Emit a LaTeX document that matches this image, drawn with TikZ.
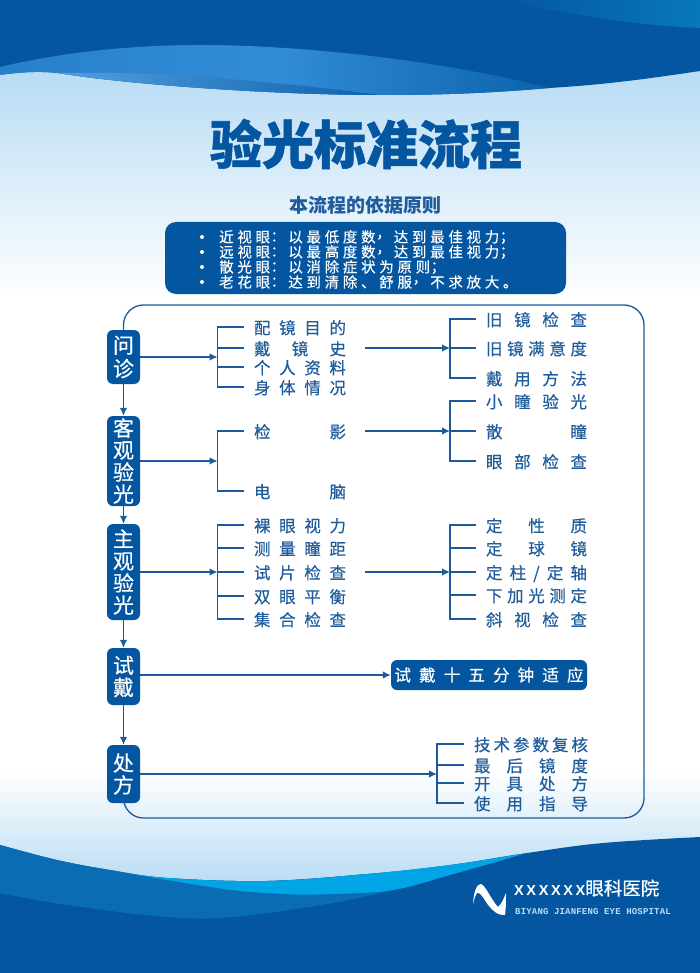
\documentclass[tikz,border=0pt]{standalone}
\usepackage{fontspec}
\usetikzlibrary{arrows.meta}
\setmainfont{Noto Sans CJK SC}
\newfontfamily\rowfont{Noto Sans CJK SC}[FakeBold=0.4]
\newfontfamily\stepfont{Noto Sans CJK SC}[FakeBold=0.5]
\newfontfamily\titlefont{Noto Sans CJK SC}[BoldFeatures={FakeBold=1.1}]
\newfontfamily\basisfont{Noto Sans CJK SC}
\newfontfamily\widefont{Noto Sans CJK SC}[LetterSpace=25.5,FakeBold=0.3]
\newfontfamily\widepunct{Noto Sans CJK TC}[FakeBold=0.3]
\newfontfamily\logofont{Liberation Sans}[LetterSpace=18]
\newfontfamily\hospfont{Liberation Mono}[LetterSpace=2]
\newcommand{\spreadtext}[2]{\makebox[#1pt][s]{#2}}
\newcommand{\pc}[1]{\makebox[18.2pt][l]{\hspace{-3pt}\widepunct #1}}
\definecolor{deepblue}{RGB}{4,86,160}
\definecolor{linkblue}{RGB}{28,90,155}
\definecolor{midblue}{RGB}{10,108,178}
\definecolor{cyanblue}{RGB}{0,165,230}
\definecolor{paleblue}{RGB}{184,220,244}
\definecolor{rowblue}{RGB}{30,92,155}
\definecolor{swooshleft}{RGB}{40,128,204}
\definecolor{swooshmid}{RGB}{50,140,216}
\definecolor{swooshright}{RGB}{12,98,172}
\definecolor{innerblue}{RGB}{84,158,222}
\begin{document}
\begin{tikzpicture}[x=1pt,y=-1pt,
  flow/.style={draw=linkblue,line width=1.3pt},
  flowarrow/.style={flow,-{Latex[length=8pt,width=7.5pt]}},
  stepbox/.style={fill=deepblue,text=white,rounded corners=6pt,inner sep=0pt,minimum width=33pt,align=center,font=\stepfont\fontsize{21}{22}\selectfont},
  rowtext/.style={text=rowblue,inner sep=0pt,outer xsep=10pt,text height=15.5pt,text depth=1.4pt,font=\rowfont\fontsize{16.5}{17}\selectfont}]
\useasboundingbox (0,0) rectangle (700,973);
% background
\fill[white] (0,0) rectangle (700,973);
\shade[top color=paleblue,bottom color=white] (0,70) rectangle (700,300);
\shade[top color=white,bottom color=paleblue] (0,770) rectangle (700,885);
% top waves
\fill[deepblue] (0,0) -- (700,0) -- (700,71) .. controls (640,80) and (600,85) .. (549,88) .. controls (480,94) and (430,95) .. (380,95) .. controls (280,95) and (130,85) .. (58,73) .. controls (40,71) and (20,72) .. (0,75) -- cycle;
\begin{scope}
\clip (0,67) .. controls (50,55) and (120,45) .. (200,45) .. controls (300,45) and (440,60) .. (549,88) .. controls (480,94) and (430,95) .. (380,95) .. controls (280,95) and (130,85) .. (58,73) .. controls (40,71) and (20,72) .. (0,75) -- cycle;
\shade[left color=swooshleft,right color=swooshright,middle color=swooshmid] (0,40) rectangle (549,100);
\end{scope}
\shade[left color=innerblue,right color=swooshright] (58,73) .. controls (120,72) and (200,75) .. (240,80) .. controls (300,85) and (340,90) .. (380,95) .. controls (280,95) and (130,85) .. (58,73) -- cycle;
\shade[left color=deepblue,right color=midblue!80!cyanblue] (500,0) .. controls (540,8) and (620,25) .. (700,28) -- (700,0) -- cycle;
% bottom waves
\fill[deepblue] plot[smooth,tension=.6] coordinates {(0,845) (57,860) (110,870) (167,878) (267,881) (367,874) (450,865) (527,853) (603,843) (700,837)} -- (700,973) -- (0,973) -- cycle;
\fill[midblue] plot[smooth,tension=.6] coordinates {(0,845) (57,860) (110,870) (167,878) (267,881) (367,874)} -- plot[smooth,tension=.6] coordinates {(393,890) (333,903) (233,917) (167,917) (67,905) (0,893)} -- cycle;
\fill[cyanblue] plot[smooth,tension=.6] coordinates {(110,870) (167,878) (267,881) (367,874) (450,865) (527,853)} -- plot[smooth,tension=.6] coordinates {(527,853) (450,875) (393,890) (333,894) (283,894) (217,888) (110,870)} -- cycle;
% title
\node[text=deepblue,inner sep=0pt,font=\titlefont\bfseries\fontsize{52}{54}\selectfont] (title) at (366,144){验光标准流程};
\node[text=rowblue,inner sep=0pt,font=\basisfont\bfseries\fontsize{19}{20}\selectfont] (basis) at (365,205){本流程的依据原则};
\node[fill=deepblue,rounded corners=11pt,minimum width=401pt,minimum height=72pt,inner sep=0pt] (rules) at (365.5,258){};
\node[anchor=west,text=white,inner sep=0pt,font=\widefont\fontsize{14.5}{15}\selectfont] (rule1) at (219,237){近视眼\pc{：}以最低度数\pc{，}达到最佳视力\pc{；}};
\node[anchor=west,text=white,inner sep=0pt,font=\widefont\fontsize{14.5}{15}\selectfont] (rule2) at (219,252){远视眼\pc{：}以最高度数\pc{，}达到最佳视力\pc{；}};
\node[anchor=west,text=white,inner sep=0pt,font=\widefont\fontsize{14.5}{15}\selectfont] (rule3) at (219,267){散光眼\pc{：}以消除症状为原则\pc{；}};
\node[anchor=west,text=white,inner sep=0pt,font=\widefont\fontsize{14.5}{15}\selectfont] (rule4) at (219,282){老花眼\pc{：}达到清除、舒服\pc{，}不求放大。};
\fill[white] (202,237) circle (2pt) (202,252) circle (2pt) (202,267) circle (2pt) (202,282) circle (2pt);
% left column
\node[stepbox,minimum height=54pt] (wen) at (123.5,357){问\\[1.5pt]诊};
\node[stepbox,minimum height=90pt] (ke) at (123.5,461){客\\观\\验\\光};
\node[stepbox,minimum height=96pt] (zhu) at (123.5,572){主\\观\\验\\光};
\node[stepbox,minimum height=57pt] (shi) at (123.5,676.5){试\\戴};
\node[stepbox,minimum height=58pt] (chu) at (123.5,774){处\\方};
\draw[flowarrow] (wen)--(ke);
\draw[flowarrow] (ke)--(zhu);
\draw[flowarrow] (zhu)--(shi);
\draw[flowarrow] (shi)--(chu);
% frame
\coordinate (tl) at (123.5,305);
\coordinate (tr) at (644,305);
\coordinate (br) at (644,818);
\coordinate (bl) at (123.5,818);
\draw[flow,rounded corners=20pt] (wen.north)--(tl)--(tr)--(br)--(bl)--(chu.south);
% first rows
\node[rowtext] (pei) at (300,327){\spreadtext{92}{配 镜 目 的}};
\node[rowtext] (dai) at (300,348){\spreadtext{92}{戴 镜 史}};
\node[rowtext] (ge) at (300,367){\spreadtext{92}{个 人 资 料}};
\node[rowtext] (shen) at (300,387){\spreadtext{92}{身 体 情 况}};
\coordinate (wenb) at (217.5,357);
\draw[flowarrow] (wen.east |- wenb)--(wenb);
\draw[flow] (pei.west)--(pei.west -| wenb)--(shen.west -| wenb)--(shen.west);
\draw[flow] (dai.west)--(dai.west -| wenb);
\draw[flow] (ge.west)--(ge.west -| wenb);
\node[rowtext] (jiu) at (536.5,319){\spreadtext{101}{旧 镜 检 查}};
\node[rowtext] (man) at (536.5,348){\spreadtext{101}{旧 镜 满 意 度}};
\node[rowtext] (fa) at (536.5,378){\spreadtext{101}{戴 用 方 法}};
\coordinate (daib) at (450,348);
\draw[flowarrow] ([xshift=9pt]dai.east)--(daib);
\draw[flow] (jiu.west)--(jiu.west -| daib)--(fa.west -| daib)--(fa.west);
\draw[flow] (man.west)--(daib);
% second rows
\node[rowtext] (jian) at (300,431){\spreadtext{92}{检 影}};
\node[rowtext] (dian) at (300,491){\spreadtext{92}{电 脑}};
\coordinate (keb) at (217.5,461);
\draw[flowarrow] (ke.east |- keb)--(keb);
\draw[flow] (jian.west)--(jian.west -| keb)--(dian.west -| keb)--(dian.west);
\node[rowtext] (xiao) at (536.5,401){\spreadtext{101}{小 瞳 验 光}};
\node[rowtext] (san) at (536.5,431){\spreadtext{101}{散 瞳}};
\node[rowtext] (yan) at (536.5,461){\spreadtext{101}{眼 部 检 查}};
\coordinate (jianb) at (450,431);
\draw[flowarrow] ([xshift=9pt]jian.east)--(jianb);
\draw[flow] (xiao.west)--(xiao.west -| jianb)--(yan.west -| jianb)--(yan.west);
\draw[flow] (san.west)--(jianb);
% third rows
\node[rowtext] (luo) at (300,525){\spreadtext{92}{裸 眼 视 力}};
\node[rowtext] (ce) at (300,548){\spreadtext{92}{测 量 瞳 距}};
\node[rowtext] (pian) at (300,572){\spreadtext{92}{试 片 检 查}};
\node[rowtext] (shuang) at (300,596){\spreadtext{92}{双 眼 平 衡}};
\node[rowtext] (ji) at (300,619){\spreadtext{92}{集 合 检 查}};
\coordinate (zhub) at (217.5,572);
\draw[flowarrow] (zhu.east |- zhub)--(zhub);
\draw[flow] (luo.west)--(luo.west -| zhub)--(ji.west -| zhub)--(ji.west);
\draw[flow] (ce.west)--(ce.west -| zhub);
\draw[flow] (pian.west)--(zhub);
\draw[flow] (shuang.west)--(shuang.west -| zhub);
\node[rowtext] (xing) at (536.5,525){\spreadtext{101}{定 性 质}};
\node[rowtext] (qiu) at (536.5,548){\spreadtext{101}{定 球 镜}};
\node[rowtext] (zhou) at (536.5,572){\spreadtext{101}{定 柱 / 定 轴}};
\node[rowtext] (xia) at (536.5,595){\spreadtext{101}{下 加 光 测 定}};
\node[rowtext] (xie) at (536.5,619){\spreadtext{101}{斜 视 检 查}};
\coordinate (pianb) at (450,572);
\draw[flowarrow] ([xshift=9pt]pian.east)--(pianb);
\draw[flow] (xing.west)--(xing.west -| pianb)--(xie.west -| pianb)--(xie.west);
\draw[flow] (qiu.west)--(qiu.west -| pianb);
\draw[flow] (zhou.west)--(pianb);
\draw[flow] (xia.west)--(xia.west -| pianb);
% trial wear
\node[fill=deepblue,text=white,rounded corners=6pt,minimum width=196pt,minimum height=30pt,inner sep=0pt,font=\rowfont\fontsize{16.5}{17}\selectfont] (shidai) at (489,675){\spreadtext{189}{试 戴 十 五 分 钟 适 应}};
\draw[flowarrow] (shi.east |- shidai)--(shidai);
% prescription
\node[rowtext] (jishu) at (531,744){\spreadtext{114}{技 术 参 数 复 核}};
\node[rowtext] (zuihou) at (531,765){\spreadtext{114}{最 后 镜 度}};
\node[rowtext] (kaiju) at (531,783){\spreadtext{114}{开 具 处 方}};
\node[rowtext] (shiyong) at (531,803){\spreadtext{114}{使 用 指 导}};
\coordinate (chub) at (437,774);
\draw[flowarrow] (chu.east |- chub)--(chub);
\draw[flow] (jishu.west)--(jishu.west -| chub)--(shiyong.west -| chub)--(shiyong.west);
\draw[flow] (zuihou.west)--(zuihou.west -| chub);
\draw[flow] (kaiju.west)--(kaiju.west -| chub);
% logo
\fill[white] (473,904) .. controls (474,890) and (477,884) .. (481,884) .. controls (486,886) and (490,898) .. (498,907) .. controls (501,905) and (504,898) .. (506,893) .. controls (506,900) and (506,908) .. (505,915) .. controls (499,916) and (492,911) .. (486,902) .. controls (483,897) and (480,892) .. (477,893) .. controls (475,896) and (474,900) .. (473,904) -- cycle;
\node[anchor=west,text=white,inner sep=0pt,font=\rowfont\fontsize{18.5}{19}\selectfont] (hosp) at (514,888){{\logofont\fontsize{14.5}{15}\selectfont\bfseries XXXXXX}眼科医院};
\node[anchor=west,text=paleblue,inner sep=0pt,font=\hospfont\bfseries\fontsize{9}{10}\selectfont] (hospen) at (515,912){BIYANG JIANFENG EYE HOSPITAL};
\end{tikzpicture}
\end{document}
